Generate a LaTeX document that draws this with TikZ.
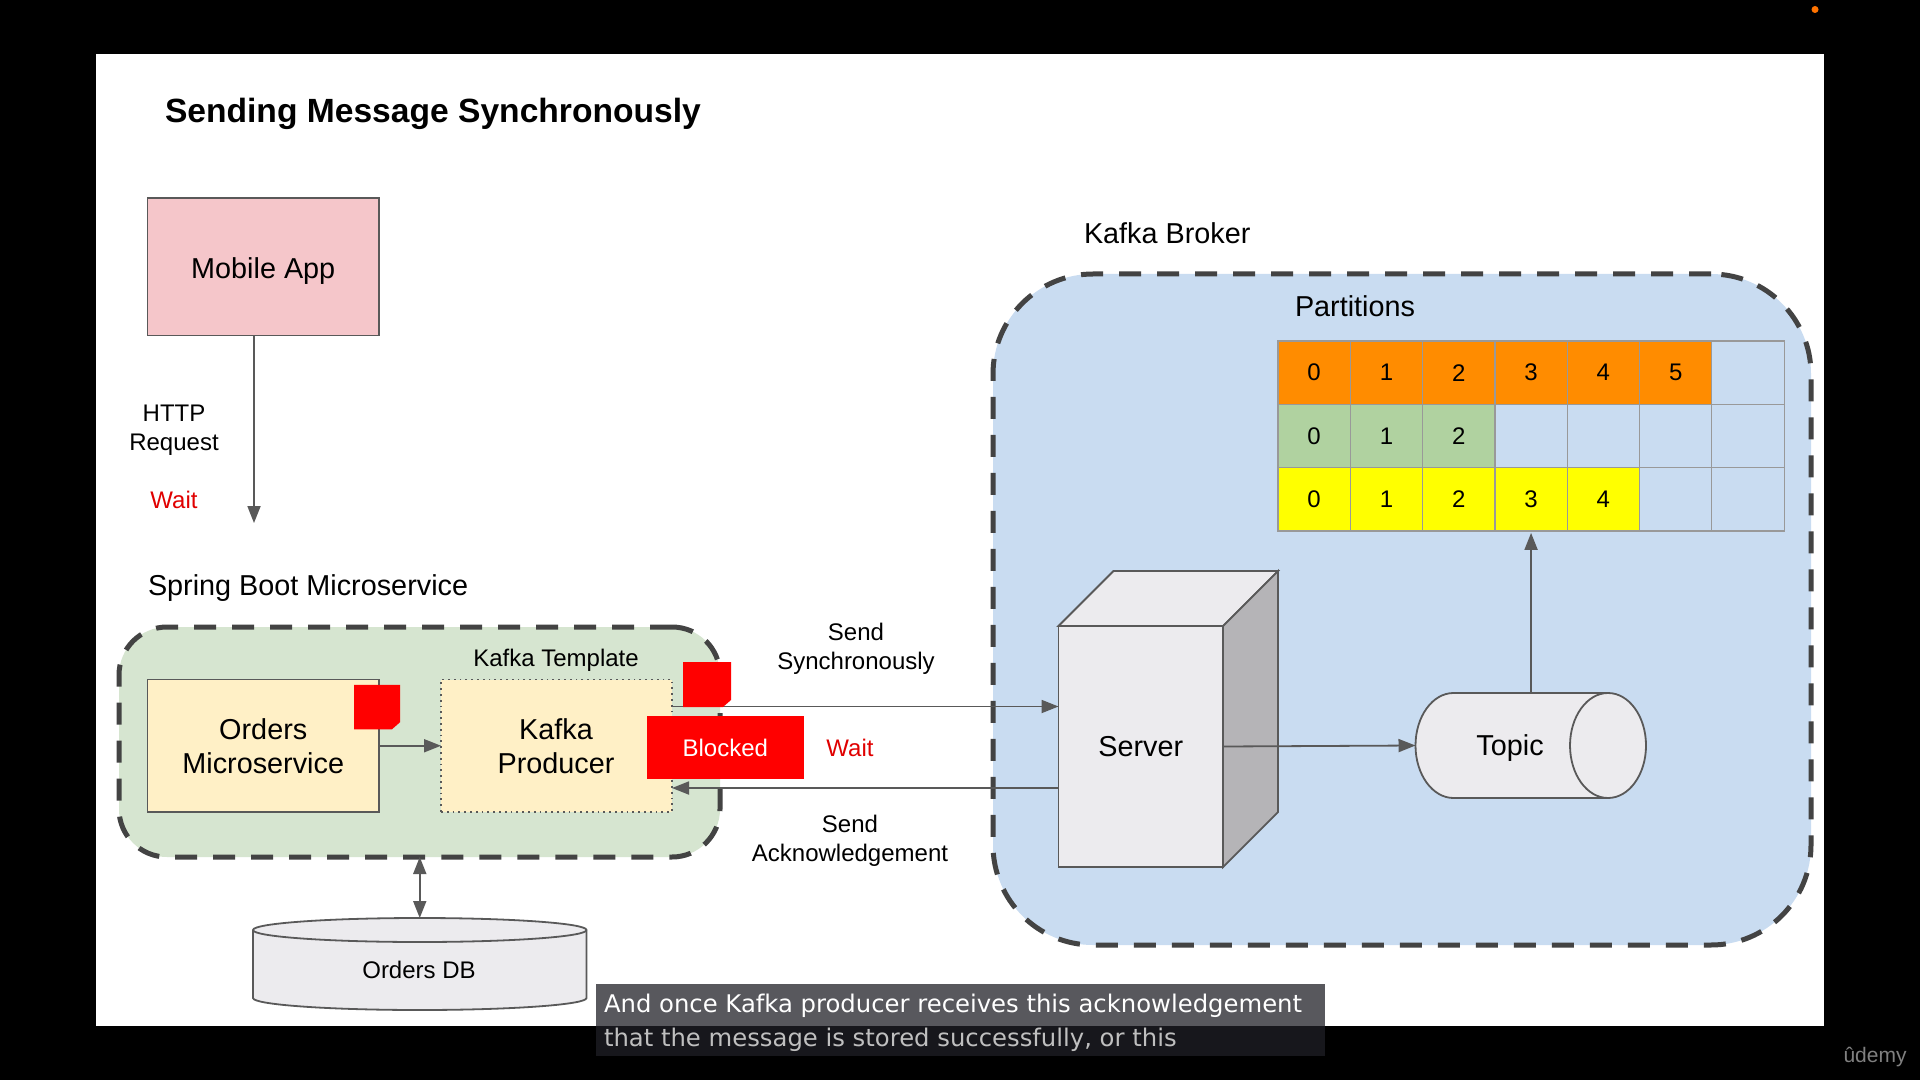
\documentclass[tikz,border=0pt]{standalone}
\usepackage{fontspec}
\setmainfont{Liberation Sans}
\newfontfamily\captionfont{DejaVu Sans}
\usetikzlibrary{arrows.meta}
\definecolor{penColor}{HTML}{595959}
\definecolor{frameColor}{HTML}{434343}
\definecolor{greenBack}{HTML}{D6E5D0}
\definecolor{blueBack}{HTML}{C9DCF1}
\definecolor{creamFill}{HTML}{FFF0C6}
\definecolor{pinkFill}{HTML}{F5C6CA}
\definecolor{greyFill}{HTML}{ECEBEE}
\definecolor{greySide}{HTML}{B5B4B7}
\definecolor{orangeCell}{HTML}{FF8C00}
\definecolor{greenCell}{HTML}{B0D2A0}
\definecolor{yellowCell}{HTML}{FFFF00}
\definecolor{waitRed}{HTML}{E00000}
\definecolor{capFill}{RGB}{31,32,38}
\tikzset{>={Stealth[inset=0pt,length=8.5pt,width=6.5pt]}}
\tikzset{
	pxsize/.style 2 args={minimum width=#1*0.5pt,minimum height=#2*0.5pt},
	bare/.style={inner sep=0pt,outer sep=0pt},
	smalltext/.style={bare,align=center,font=\fontsize{12}{14.6}\selectfont},
	bigtext/.style={bare,align=center,font=\fontsize{14.4}{17}\selectfont},
	dashframe/.style={bare,draw=frameColor,line width=2.5pt,dash pattern=on 11pt off 8pt},
	boxnode/.style={bigtext,draw=penColor,line width=0.9pt},
	conn/.style={draw=penColor,line width=0.9pt},
	cellnode/.style={smalltext,draw=black!40,line width=0.6pt,pxsize={72.3}{63.3}},
	canline/.style={draw=penColor,line width=0.9pt,fill=greyFill},
}
\newcommand{\notemark}[1]{\fill[red] (#1.north west) -- (#1.north east) -- ([yshift=3.5pt]#1.south east) -- ([xshift=-4pt]#1.south east) -- (#1.south west) -- cycle;}
\begin{document}
\begin{tikzpicture}[x=0.5pt,y=-0.5pt]
	\fill[black] (0,0) rectangle (1920,1080);
	\fill[white] (96,54) rectangle (1824,1026);
	\fill[orange!90!red] (1815,9.5) circle [radius=3.5];

	\node[bare,anchor=west,font=\fontsize{16.8}{20}\selectfont\bfseries] (title) at (165,114) {Sending Message Synchronously};

	% mobile app and request
	\node[boxnode,fill=pinkFill,pxsize={231.5}{137.5}] (mobile) at (263.25,266.75) {};
	\node[bigtext] (mobilelabel) at (263.25,271) {Mobile App};
	\coordinate (waitend) at (254,523);
	\draw[conn,->] (mobile.south -| waitend) -- (waitend);
	\node[smalltext] (http) at (174,430) {HTTP\\Request};
	\node[smalltext,text=waitRed] (waitleft) at (174,500) {Wait};

	% microservice frame
	\node[bigtext,anchor=west] (springlabel) at (148,588.5) {Spring Boot Microservice};
	\node[dashframe,fill=greenBack,rounded corners=24pt,pxsize={601}{230}] (spring) at (419.5,742) {};
	\node[boxnode,fill=creamFill,pxsize={231.5}{132.5}] (orders) at (263.25,745.75) {};
	\node[bigtext] (orderslabel) at (263.25,746) {Orders\\Microservice};
	\node[bare,draw=penColor,line width=0.9pt,dotted,fill=creamFill,pxsize={231}{132.5}] (producer) at (556.5,745.75) {};
	\node[bigtext] (producerlabel) at (556,746) {Kafka\\Producer};
	\node[smalltext] (templatelabel) at (556,660.5) {Kafka Template};
	\draw[conn,->] (orders) -- (producer);

	% orders db
	\node[bare,pxsize={333.5}{92}] (db) at (419.75,964) {};
	\draw[canline] ([yshift=-6pt]db.north west) -- ([yshift=6pt]db.south west) arc [start angle=180,end angle=360,x radius=83.375pt,y radius=6pt] -- ([yshift=-6pt]db.north east) arc [start angle=0,end angle=180,x radius=83.375pt,y radius=6pt] -- cycle;
	\draw[canline,fill=none] ([yshift=-6pt]db.north west) arc [start angle=180,end angle=360,x radius=83.375pt,y radius=6pt];
	\node[smalltext] (dblabel) at (419,970) {Orders DB};
	\draw[conn,<->] (spring.south -| db.north) -- (db.north);

	% broker
	\node[bigtext,anchor=west] (brokerlabel) at (1084,233) {Kafka Broker};
	\node[dashframe,fill=blueBack,rounded corners=50pt,pxsize={818}{671}] (broker) at (1402,609.5) {};
	\node[bigtext,anchor=west] (partlabel) at (1295,306) {Partitions};
	\foreach \r/\colr/\filled in {0/orangeCell/6,1/greenCell/3,2/yellowCell/5}
		\foreach \c in {0,...,6}{
			\ifnum\c<\filled
				\node[cellnode,fill=\colr] (cell\r\c) at ({1278+72.3*(\c+.5)},{341+63.3*(\r+.5)}) {\raisebox{-0.4pt}{\c}};
			\else
				\node[cellnode] (cell\r\c) at ({1278+72.3*(\c+.5)},{341+63.3*(\r+.5)}) {};
			\fi
		}

	% server block
	\node[boxnode,fill=greyFill,pxsize={164.5}{241}] (server) at (1140.75,746.5) {\raisebox{-0.5pt}{Server}};
	\draw[conn,fill=greyFill] (server.north west) -- ++(55,-55) -- ++(164.5,0) -- (server.north east) -- cycle;
	\draw[conn,fill=greySide] (server.north east) -- ++(55,-55) -- ++(0,241) -- (server.south east) -- cycle;

	% topic
	\node[bare,pxsize={230.5}{105}] (topic) at (1530.75,745.5) {};
	\draw[canline] ([xshift=19pt]topic.north west) arc [start angle=90,end angle=270,x radius=19pt,y radius=26.25pt] -- ([xshift=-19pt]topic.south east) arc [start angle=-90,end angle=90,x radius=19pt,y radius=26.25pt] -- cycle;
	\draw[canline,fill=none] ([xshift=-19pt]topic.north east) arc [start angle=90,end angle=270,x radius=19pt,y radius=26.25pt];
	\node[bigtext] (topiclabel) at (1510,748.5) {Topic};
	\draw[conn,->] (server.east) -- (topic.west);
	\draw[conn,->] (cell23.south |- topic.north) -- ([yshift=-1pt]cell23.south);

	% send and acknowledge
	\coordinate (syncpoint) at (672,706.5);
	\coordinate (ackpoint) at (1058.5,788);
	\draw[conn,->] (syncpoint) -- (syncpoint -| server.west);
	\draw[conn,->] (ackpoint) -- (ackpoint -| producer.east);
	\node[smalltext] (sendsync) at (856,649) {Send\\Synchronously};
	\node[smalltext] (sendack) at (850,840.5) {Send\\Acknowledgement};

	\node[bare,pxsize={46}{44.5}] (noteorders) at (377,707) {};
	\notemark{noteorders}
	\node[bare,pxsize={48}{45}] (noteproducer) at (707,684.5) {};
	\notemark{noteproducer}
	\node[smalltext,fill=red,text=white,pxsize={157.5}{63}] (blocked) at (725.25,747.5) {Blocked};
	\node[smalltext,text=waitRed] (waitright) at (850,748) {Wait};

	% caption bar
	\fill[capFill,opacity=.745] (596,984) rectangle (1325,1056);
	\node[bare,anchor=west,text=white,font=\captionfont\fontsize{12.15}{15}\selectfont] (capone) at (604,1005.5) {And once Kafka producer receives this acknowledgement};
	\node[bare,anchor=west,text=black!25,font=\captionfont\fontsize{12.15}{15}\selectfont] (captwo) at (604,1039.5) {that the message is stored successfully, or this};
	\node[bare,text=black!50,font=\fontsize{10.5}{12}\selectfont] (udemy) at (1875,1057) {ûdemy};
\end{tikzpicture}
\end{document}
